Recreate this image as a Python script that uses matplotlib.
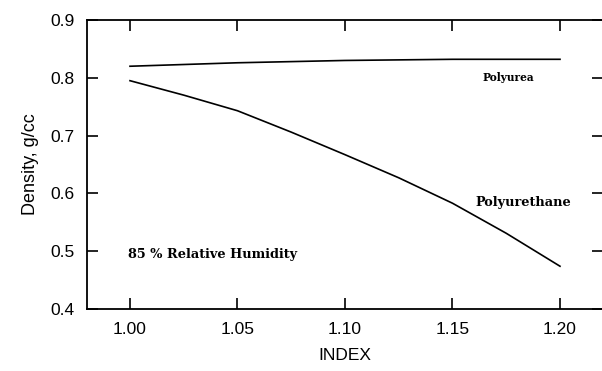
import numpy as np
import matplotlib
matplotlib.use("Agg")
import matplotlib.pyplot as plt

# data
index_urea = [1.00, 1.025, 1.05, 1.075, 1.10, 1.125, 1.15, 1.175, 1.20]
density_urea = [0.820, 0.823, 0.826, 0.828, 0.830, 0.831, 0.832, 0.832, 0.832]

index_urethane = [1.00, 1.025, 1.05, 1.075, 1.10, 1.125, 1.15, 1.175, 1.20]
density_urethane = [0.795, 0.770, 0.743, 0.706, 0.667, 0.627, 0.583, 0.531, 0.474]

xticks = [1.00, 1.05, 1.10, 1.15, 1.20]
yticks = [0.4, 0.5, 0.6, 0.7, 0.8, 0.9]

plt.rcParams['font.family'] = ['Liberation Sans', 'DejaVu Sans']

fig = plt.figure(figsize=(6.02, 3.71), dpi=100)
ax = fig.add_axes([87 / 602, 62 / 371, 516 / 602, 289 / 371])

ax.plot(index_urea, density_urea, color='black', lw=1.2)
ax.plot(index_urethane, density_urethane, color='black', lw=1.2)

ax.set_xlim(0.98, 1.22)
ax.set_ylim(0.4, 0.9)
ax.set_xticks(xticks)
ax.set_xticklabels(['{:.2f}'.format(v) for v in xticks])
ax.set_yticks(yticks)
ax.set_yticklabels(['{:.1f}'.format(v) for v in yticks])

ax.tick_params(direction='in', length=8, width=1.2, top=True, right=True,
               labelsize=12.5, pad=9, colors='black')
ax.spines['right'].set_visible(False)
for s in ['left', 'top', 'bottom']:
    ax.spines[s].set_linewidth(1.3)

ax.set_xlabel('INDEX', fontsize=12.5, labelpad=8)
ax.set_ylabel('Density, g/cc', fontsize=13, labelpad=8)

serif = dict(family='DejaVu Serif', fontweight='bold', color='black')
ax.text(1.164, 0.800, 'Polyurea', fontsize=7.7, ha='left', va='center', **serif)
ax.text(1.1605, 0.585, 'Polyurethane', fontsize=9.3, ha='left', va='center', **serif)
ax.text(0.999, 0.495, '85 % Relative Humidity', fontsize=9.3, ha='left', va='center', **serif)

fig.savefig('out.png', dpi=100)
